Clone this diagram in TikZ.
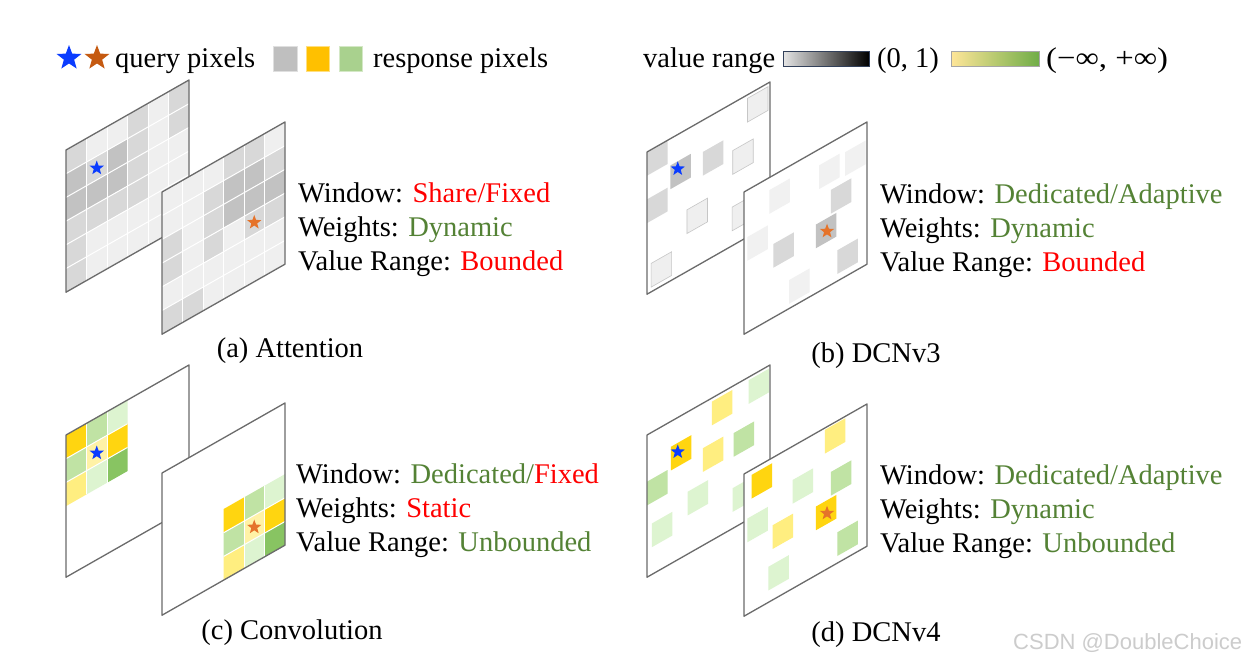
\documentclass[tikz,border=0pt]{standalone}
\usepackage{graphicx}
\usepackage{fontspec}
\setmainfont{Liberation Serif}
\newfontfamily\wmfont{Liberation Sans}
\usetikzlibrary{shapes.geometric}
\definecolor{cL}{HTML}{EFEFEF}
\definecolor{cF}{HTML}{F1F1F1}
\definecolor{cM}{HTML}{D8D8D8}
\definecolor{cD}{HTML}{C2C2C2}
\definecolor{gold}{HTML}{FFD510}
\definecolor{ylw}{HTML}{FFEE80}
\definecolor{lyl}{HTML}{FFF2A6}
\definecolor{lgr}{HTML}{C0E3A4}
\definecolor{vlg}{HTML}{DDF4D0}
\definecolor{dgr}{HTML}{88C462}
\definecolor{txtred}{HTML}{FF0000}
\definecolor{txtgreen}{HTML}{548235}
\definecolor{qblue}{HTML}{0A3CFF}
\definecolor{qorange}{HTML}{E5732A}
\definecolor{qbrown}{HTML}{C55A11}
\definecolor{framegray}{HTML}{6B6B6B}
\definecolor{lgray}{HTML}{BFBFBF}
\definecolor{lgold}{HTML}{FFC000}
\definecolor{lgreen}{HTML}{A9D18E}
\newcommand\pframe{\draw[panelframe] (0,0) -- (6,0) -- (6,6) -- (0,6) -- cycle;}
\newcommand\pwhite{\fill[white] (0,0) -- (6,0) -- (6,6) -- (0,6) -- cycle;}
\newcommand\sqr[3]{\fill[#3] (#1,#2) -- ++(1,0) -- ++(0,1) -- ++(-1,0) -- cycle;}
\newcommand\graygrid[1]{%
  \foreach \rowlist [count=\ri from 0] in {#1} {
    \foreach \cc [count=\ci from 0] in \rowlist {
      \fill[fill=c\cc] (\ci,\ri) -- ++(1,0) -- ++(0,1) -- ++(-1,0) -- cycle;
    }
  }
  \foreach \i in {1,...,5} {
    \draw[white, line width=1pt] (\i,0) -- (\i,6);
    \draw[white, line width=1pt] (0,\i) -- (6,\i);
  }
}
\newcommand\convgrid[2]{%
  \begin{scope}[shift={(#1,#2)}]
  \foreach \rowlist [count=\ri from 0] in {{gold,lgr,vlg},{lgr,lyl,gold},{ylw,vlg,dgr}} {
    \foreach \cc [count=\ci from 0] in \rowlist {
      \fill[fill=\cc] (\ci,\ri) -- ++(1,0) -- ++(0,1) -- ++(-1,0) -- cycle;
    }
  }
  \foreach \i in {1,2} {
    \draw[white, line width=1pt] (\i,0) -- (\i,3);
    \draw[white, line width=1pt] (0,\i) -- (3,\i);
  }
  \end{scope}
}
\begin{document}
\begin{tikzpicture}[x=1pt,y=-1pt, font=\fontsize{28.5}{34}\selectfont,
  panelframe/.style={draw=framegray, line width=1.3pt, line join=round},
  qstar/.style={star, star points=5, star point ratio=2.4, inner sep=0pt, minimum size=15pt, draw=none},
  lstar/.style={star, star points=5, star point ratio=2.4, inner sep=0pt, minimum size=26pt, draw=none},
  lbl/.style={anchor=base west, inner sep=0pt},
  captxt/.style={anchor=base, inner sep=0pt},
  edged/.style={draw=gray!45, line width=0.6pt},
  pgeo/.style={x={(20.5pt,11.67pt)}, y={(0pt,-23.7pt)}}]
\useasboundingbox[fill=white] (0,0) rectangle (1249,662);

% ---------------- legend ----------------
\node[lstar, fill=qblue] (lsb) at (69,58) {};
\node[lstar, fill=qbrown] (lso) at (97,58) {};
\node[lbl] (lq) at (115,67) {query pixels};
\fill[lgray, draw=gray!25, line width=0.8pt] (273,46) rectangle (297,71);
\fill[lgold, draw=lgold!50, line width=0.8pt] (306,46) rectangle (329,71);
\fill[lgreen, draw=lgreen!50, line width=0.8pt] (339,46) rectangle (362,71);
\node[lbl] (lr) at (373,67) {response pixels};

\node[lbl] (lv) at (643,67) {value range};
\shade[left color=gray!20, right color=black] (783,51) rectangle (869,66);
\draw[draw={rgb,255:red,50;green,64;blue,90}, line width=1pt] (783,51) rectangle (869,66);
\node[lbl] (l01) at (877,67) {(0, 1)};
\shade[left color={rgb,255:red,255;green,230;blue,153}, right color={rgb,255:red,112;green,173;blue,71}] (951,51) rectangle (1039,66);
\draw[draw=gray!70, line width=1pt] (951,51) rectangle (1039,66);
\node[lbl] (linf) at (1046,67) {\scalebox{1.15}[1]{(−∞, +∞)}};

% ---------------- (a) Attention ----------------
\begin{scope}[shift={(66,150)}, pgeo]
  \pwhite
  \graygrid{{M,L,L,M,L,M},{D,M,D,M,L,M},{D,D,D,M,L,L},{M,M,M,M,L,L},{M,L,L,L,L,L},{M,L,L,L,L,L}}
  \pframe
  \node[qstar, fill=qblue] (sa1) at (1.5,1.5) {};
\end{scope}
\begin{scope}[shift={(162,192)}, pgeo]
  \pwhite
  \graygrid{{L,L,L,M,M,L},{L,L,M,D,D,M},{M,L,M,D,D,D},{M,L,M,L,M,M},{L,L,L,L,L,L},{M,M,L,L,L,L}}
  \pframe
  \node[qstar, fill=qorange] (sa2) at (4.5,3.5) {};
\end{scope}
\node[lbl] (ta1) at (298,202) {Window: \textcolor{txtred}{Share/Fixed}};
\node[lbl] (ta2) at (298,236) {Weights: \textcolor{txtgreen}{Dynamic}};
\node[lbl] (ta3) at (298,270) {Value Range: \textcolor{txtred}{Bounded}};
\node[captxt] (ca) at (290,357) {(a) Attention};

% ---------------- (b) DCNv3 ----------------
\begin{scope}[shift={(647,152)}, pgeo]
  \pwhite
  \sqr{0}{0}{cM}
  \sqr{1.14}{1.13}{cD}
  \sqr{2.72}{1.34}{cM}
  \sqr{4.18}{2.0}{cL,edged}
  \sqr{4.9}{0.15}{cL,edged}
  \sqr{0}{2.0}{cM}
  \sqr{1.95}{3.4}{cL,edged}
  \sqr{4.15}{4.37}{cL,edged}
  \sqr{0.2}{4.8}{cL,edged}
  \pframe
  \node[qstar, fill=qblue] (sb1) at (1.5,1.45) {};
\end{scope}
\begin{scope}[shift={(744,192)}, pgeo]
  \pwhite
  \sqr{1.24}{0.53}{cF}
  \sqr{3.67}{0.68}{cF}
  \sqr{4.93}{0.75}{cF}
  \sqr{4.24}{2.0}{cM}
  \sqr{0.16}{1.98}{cF}
  \sqr{1.43}{2.9}{cM}
  \sqr{3.5}{3.1}{cD}
  \sqr{4.55}{4.7}{cM}
  \sqr{2.2}{4.8}{cF}
  \pframe
  \node[qstar, fill=qorange] (sb2) at (4.05,3.65) {};
\end{scope}
\node[lbl] (tb1) at (880,203) {Window: \textcolor{txtgreen}{Dedicated/Adaptive}};
\node[lbl] (tb2) at (880,237) {Weights: \textcolor{txtgreen}{Dynamic}};
\node[lbl] (tb3) at (880,271) {Value Range: \textcolor{txtred}{Bounded}};
\node[captxt] (cb) at (876,362) {(b) DCNv3};

% ---------------- (c) Convolution ----------------
\begin{scope}[shift={(66,435)}, pgeo]
  \pwhite
  \convgrid{0}{0}
  \pframe
  \node[qstar, fill=qblue] (sc1) at (1.5,1.5) {};
\end{scope}
\begin{scope}[shift={(162,473)}, pgeo]
  \pwhite
  \convgrid{3}{3}
  \pframe
  \node[qstar, fill=qorange] (sc2) at (4.5,4.5) {};
\end{scope}
\node[lbl] (tc1) at (296,483) {Window: \textcolor{txtgreen}{Dedicated/}\textcolor{txtred}{Fixed}};
\node[lbl] (tc2) at (296,517) {Weights: \textcolor{txtred}{Static}};
\node[lbl] (tc3) at (296,551) {Value Range: \textcolor{txtgreen}{Unbounded}};
\node[captxt] (cc) at (292,639) {(c) Convolution};

% ---------------- (d) DCNv4 ----------------
\begin{scope}[shift={(647,435)}, pgeo]
  \pwhite
  \sqr{3.17}{0.15}{ylw}
  \sqr{4.96}{0.13}{vlg}
  \sqr{1.17}{1.07}{gold}
  \sqr{2.73}{1.9}{ylw}
  \sqr{4.23}{2.0}{lgr}
  \sqr{0}{1.97}{lgr}
  \sqr{1.98}{3.37}{vlg}
  \sqr{4.18}{4.3}{vlg}
  \sqr{0.24}{3.85}{vlg}
  \pframe
  \node[qstar, fill=qblue] (sd1) at (1.5,1.45) {};
\end{scope}
\begin{scope}[shift={(744,474)}, pgeo]
  \pwhite
  \sqr{0.37}{0.22}{gold}
  \sqr{2.37}{1.42}{vlg}
  \sqr{3.95}{0.08}{ylw}
  \sqr{4.24}{2.0}{lgr}
  \sqr{0.16}{1.96}{vlg}
  \sqr{1.4}{2.85}{ylw}
  \sqr{3.51}{3.1}{gold}
  \sqr{4.55}{4.7}{lgr}
  \sqr{1.19}{4.5}{vlg}
  \pframe
  \node[qstar, fill=qorange] (sd2) at (4.05,3.65) {};
\end{scope}
\node[lbl] (td1) at (880,484) {Window: \textcolor{txtgreen}{Dedicated/Adaptive}};
\node[lbl] (td2) at (880,518) {Weights: \textcolor{txtgreen}{Dynamic}};
\node[lbl] (td3) at (880,552) {Value Range: \textcolor{txtgreen}{Unbounded}};
\node[captxt] (cd) at (876,641) {(d) DCNv4};

% watermark
\node[lbl, font=\wmfont\fontsize{22}{26}\selectfont, text=gray!40] (wm) at (1013,649) {CSDN @DoubleChoice};
\end{tikzpicture}
\end{document}
